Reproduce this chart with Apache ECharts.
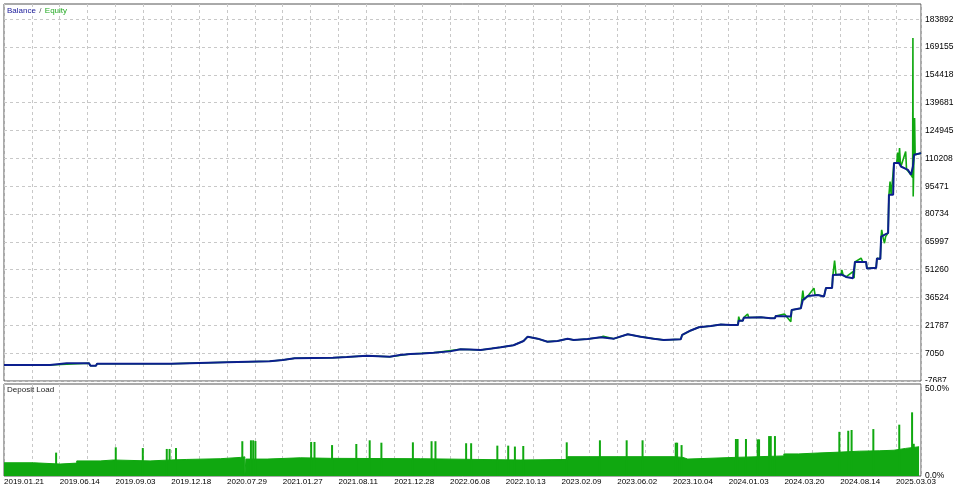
<!DOCTYPE html>
<html><head><meta charset="utf-8">
<script src="https://cdn.jsdelivr.net/npm/echarts@6/dist/echarts.min.js"></script>
<style>html,body{margin:0;padding:0;background:#fff}#c{width:960px;height:490px}</style>
</head><body><div id="c"></div>
<script>
// Date labels along the trade axis and the trade index where each appears
const dates = ['2019.01.21','2019.06.14','2019.09.03','2019.12.18','2020.07.29','2021.01.27','2021.08.11','2021.12.28','2022.06.08','2022.10.13','2023.02.09','2023.06.02','2023.10.04','2024.01.03','2024.03.20','2024.08.14','2025.03.03'];
const dateTicks = [0,20,40,60,80,100,120,140,160,180,200,220,240,260,280,300,320];
// Right axis tick labels
const balanceTicks = [-7687,7050,21787,36524,51260,65997,80734,95471,110208,124945,139681,154418,169155,183892];
const loadTicks = [0,50];

// Balance [trade index, value]
const balance = [[0,800],[16.5,800],[16.8,1700],[22.5,1700],[23,1150],[23.8,1700],[30.5,1700],[31,420],[33,420],[33.4,1480],[60,1480],[60.3,2220],[80,2220],[80.3,2750],[95.3,2750],[95.6,3440],[100,3440],[100.3,4340],[104.3,4340],[104.6,4660],[118,4660],[118.3,5030],[123,5030],[123.3,5720],[130.2,5720],[130.5,5190],[138.4,5190],[138.7,6090],[142,6090],[145.8,6620],[150,6900],[154.1,7310],[160,8000],[163.8,9110],[167,9000],[171,8740],[175,9500],[178.2,10170],[182.8,11230],[186.4,13510],[187.9,15790],[191.5,14730],[195,13140],[198.6,13510],[202.2,14730],[204.4,14040],[209.4,14570],[214.1,15470],[218.8,14730],[223.8,17060],[228.4,15790],[233.1,14730],[236.7,14040],[242.8,14410],[243.3,16690],[246.4,19080],[249.3,20770],[253.6,21460],[257.2,22260],[260.8,21990],[263.3,21990],[263.6,24270],[265.1,24270],[265.4,25860],[271.6,26070],[275.1,25540],[276.6,25540],[276.9,26760],[282.3,26500],[282.6,29940],[285.9,30840],[286.3,30840],[286.6,35240],[288.4,37360],[292,37890],[294.2,37100],[294.6,37100],[294.9,41600],[297.1,41600],[297.4,48490],[300.3,48760],[302.1,47430],[304.6,46740],[305,46740],[305.3,55380],[308.5,55380],[309.3,55380],[309.6,51940],[312.1,52200],[312.9,52200],[313.2,57240],[313.9,56970],[314.4,56970],[314.7,68790],[317.2,70750],[317.5,90890],[319,90890],[319.3,107690],[321.1,107690],[321.8,105890],[324.3,104140],[325.4,101490],[326.1,105890],[326.5,112090],[329,112990]];

// Equity [trade index, value]
const equity = [[0,800],[16.5,800],[16.8,1700],[30.5,1700],[31,420],[33,420],[33.4,1480],[60,1480],[60.3,2220],[80,2220],[80.3,2750],[95.3,2750],[95.6,3440],[100,3440],[100.3,4340],[104.3,4340],[104.6,4660],[118,4660],[118.3,5030],[123,5030],[123.3,5720],[130.2,5720],[130.5,5190],[138.4,5190],[138.7,6090],[145.8,6620],[154.1,7310],[163.8,9110],[171,8740],[178.2,10170],[182.8,11230],[186.4,13510],[187.9,15790],[191.5,14730],[195,13140],[198.6,13510],[202.2,14730],[204.4,14040],[209.4,14570],[214.1,15470],[215,16000],[218.8,14730],[223.8,17060],[228.4,15790],[233.1,14730],[236.7,14040],[242.8,14410],[243.3,16690],[244,17400],[246.4,19080],[249.3,20770],[253.6,21460],[257.2,22260],[260.8,21990],[263.3,21990],[263.6,26390],[264,24270],[265.1,24270],[265.4,25860],[266.8,27800],[267.2,25900],[271.6,26070],[275.1,25540],[276.6,25540],[276.9,26760],[277.5,27800],[280,27800],[280.3,26760],[282.3,23740],[282.6,29940],[285.9,30840],[286.3,30840],[286.6,40170],[287,35240],[288.4,37360],[290.6,41440],[291,37890],[292,37890],[294.2,37100],[294.6,37100],[294.9,41600],[297.1,41600],[297.4,48490],[298,56070],[298.5,48500],[300.3,48760],[300.6,51140],[301,48700],[302.1,47430],[304.6,50240],[305,46740],[305.3,55380],[307.5,57340],[308.1,55380],[309.3,55380],[309.6,51940],[312.1,52200],[312.9,52200],[313.2,57240],[313.9,56970],[314.4,56970],[314.7,68790],[314.9,72340],[315.3,68790],[315.9,65290],[316.3,68790],[317.2,70750],[317.5,90890],[317.9,97940],[318.3,90890],[319,90890],[319.3,107690],[320.3,107690],[320.6,113310],[321,107690],[321.3,115640],[321.6,107690],[321.8,105890],[323.5,113840],[323.8,104500],[325.4,101490],[326,100000],[326.1,173940],[326.2,89990],[326.4,105890],[326.5,112090],[326.7,131540],[326.9,112090],[329,112990]];

// Deposit load (%) general level [trade index, %]
const depositBase = [[0,7.2],[10.5,6.5],[20.1,7.0],[26.1,8.2],[34.5,8.7],[39.3,8.2],[52.4,8.7],[59.6,9.0],[65.6,9.4],[77.6,10.1],[84.8,10.4],[86.4,0],[86.8,9.2],[94.4,9.9],[106.3,9.6],[117.1,9.4],[149.4,8.7],[185.3,9.0],[202.2,10.5],[240.3,10.1],[243.6,9.2],[245.3,10.1],[261.9,10.9],[279.8,12.0],[285,12.5],[292,13.0],[300.3,13.5],[307,13.7],[314,14.0],[319.3,15.0],[323.5,15.9],[328.3,15.9]];
// Deposit load peaks [trade index, %]
const depositSpikes = [[18.7,12.7],[40.1,15.6],[49.8,15.2],[58.4,14.7],[59.4,14.7],[61.7,15.2],[85.5,18.9],[88.6,19.4],[89.4,19.4],[90.2,19.0],[110.2,18.5],[111.4,18.5],[117.7,16.8],[126.4,17.4],[131.2,19.4],[135.4,18.1],[146.7,18.3],[153.4,18.9],[154.8,18.9],[165.8,17.8],[167.6,17.8],[177.0,16.5],[180.9,16.5],[183.3,16.0],[186.3,16.3],[201.9,18.3],[213.8,19.4],[223.4,19.4],[229.1,19.4],[241.0,18.1],[241.5,18.1],[243.1,16.8],[262.6,20.1],[263.2,20.1],[266.2,20.1],[270.4,19.9],[270.9,19.9],[274.5,21.7],[275.1,21.7],[276.6,21.7],[299.7,24.0],[302.9,24.6],[304.1,25.0],[311.9,25.5],[321.2,27.9],[325.8,34.6],[326.4,17.5]];

const chart = echarts.init(document.getElementById('c'), null, {renderer:'canvas'});
const font = 'Liberation Sans';
const gridLine = {show:true, lineStyle:{color:'#c8c8c8', type:[3,3], width:1}};
const green = '#10a810';
chart.setOption({
  animation:false,
  backgroundColor:'#fff',
  grid:[
    {left:4, right:39, top:4, bottom:109, show:true, borderColor:'#555', borderWidth:1},
    {left:4, right:39, top:384, bottom:14, show:true, borderColor:'#555', borderWidth:1}
  ],
  xAxis:[
    {type:'value', gridIndex:0, min:0, max:329, interval:10, axisLine:{show:false}, axisTick:{show:false}, axisLabel:{show:false}, splitLine:gridLine},
    {type:'value', gridIndex:1, min:0, max:329, interval:10, axisLine:{show:false}, axisTick:{show:false},
     axisLabel:{customValues:dateTicks, formatter:v => dates[dateTicks.indexOf(v)] || '', align:'left', margin:2, fontSize:8, color:'#000', fontFamily:font},
     splitLine:gridLine}
  ],
  yAxis:[
    {type:'value', gridIndex:0, position:'right', min:-7687, max:191950,
     axisLine:{show:false}, axisTick:{show:false, customValues:balanceTicks},
     axisLabel:{customValues:balanceTicks, formatter:v => String(v), margin:4, fontSize:8.5, color:'#000', fontFamily:font},
     splitLine:gridLine},
    {type:'value', gridIndex:1, position:'right', min:0, max:50,
     axisLine:{show:false}, axisTick:{show:false, customValues:loadTicks},
     axisLabel:{customValues:loadTicks, formatter:v => v === 50 ? '{t|' + v.toFixed(1) + '%}' : v.toFixed(1) + '%', margin:4, fontSize:8.5, color:'#000', fontFamily:font,
       rich:{t:{fontSize:8.5, color:'#000', fontFamily:font, padding:[9,0,0,0]}}},
     splitLine:{show:false}}
  ],
  series:[
    {name:'Equity', type:'line', xAxisIndex:0, yAxisIndex:0, data:equity, showSymbol:false, lineStyle:{color:green, width:1.6}, z:2},
    {name:'Balance', type:'line', xAxisIndex:0, yAxisIndex:0, data:balance, showSymbol:false, lineStyle:{color:'#0c1f8e', width:2}, z:3},
    {name:'Deposit Load', type:'line', step:'end', xAxisIndex:1, yAxisIndex:1, data:depositBase, showSymbol:false, lineStyle:{color:green, width:1}, areaStyle:{color:green, opacity:1}, z:2},
    {name:'Deposit Peaks', type:'bar', xAxisIndex:1, yAxisIndex:1, data:depositSpikes, barWidth:2, itemStyle:{color:green}, z:2}
  ],
  graphic:[
    {type:'text', left:7, top:5, z:100, style:{text:'{b|Balance} {s|/} {e|Equity}', rich:{
      b:{fill:'#1a1a9a', fontSize:8, fontFamily:font},
      s:{fill:'#555', fontSize:8, fontFamily:font},
      e:{fill:'#22aa22', fontSize:8, fontFamily:font}}}},
    {type:'text', left:7, top:386, z:100, style:{text:'Deposit Load', fill:'#222', fontSize:8, fontFamily:font}},
    {type:'rect', z:100, shape:{x:922, y:382, width:38, height:3}, style:{fill:'#fff'}}
  ]
});
</script></body></html>
